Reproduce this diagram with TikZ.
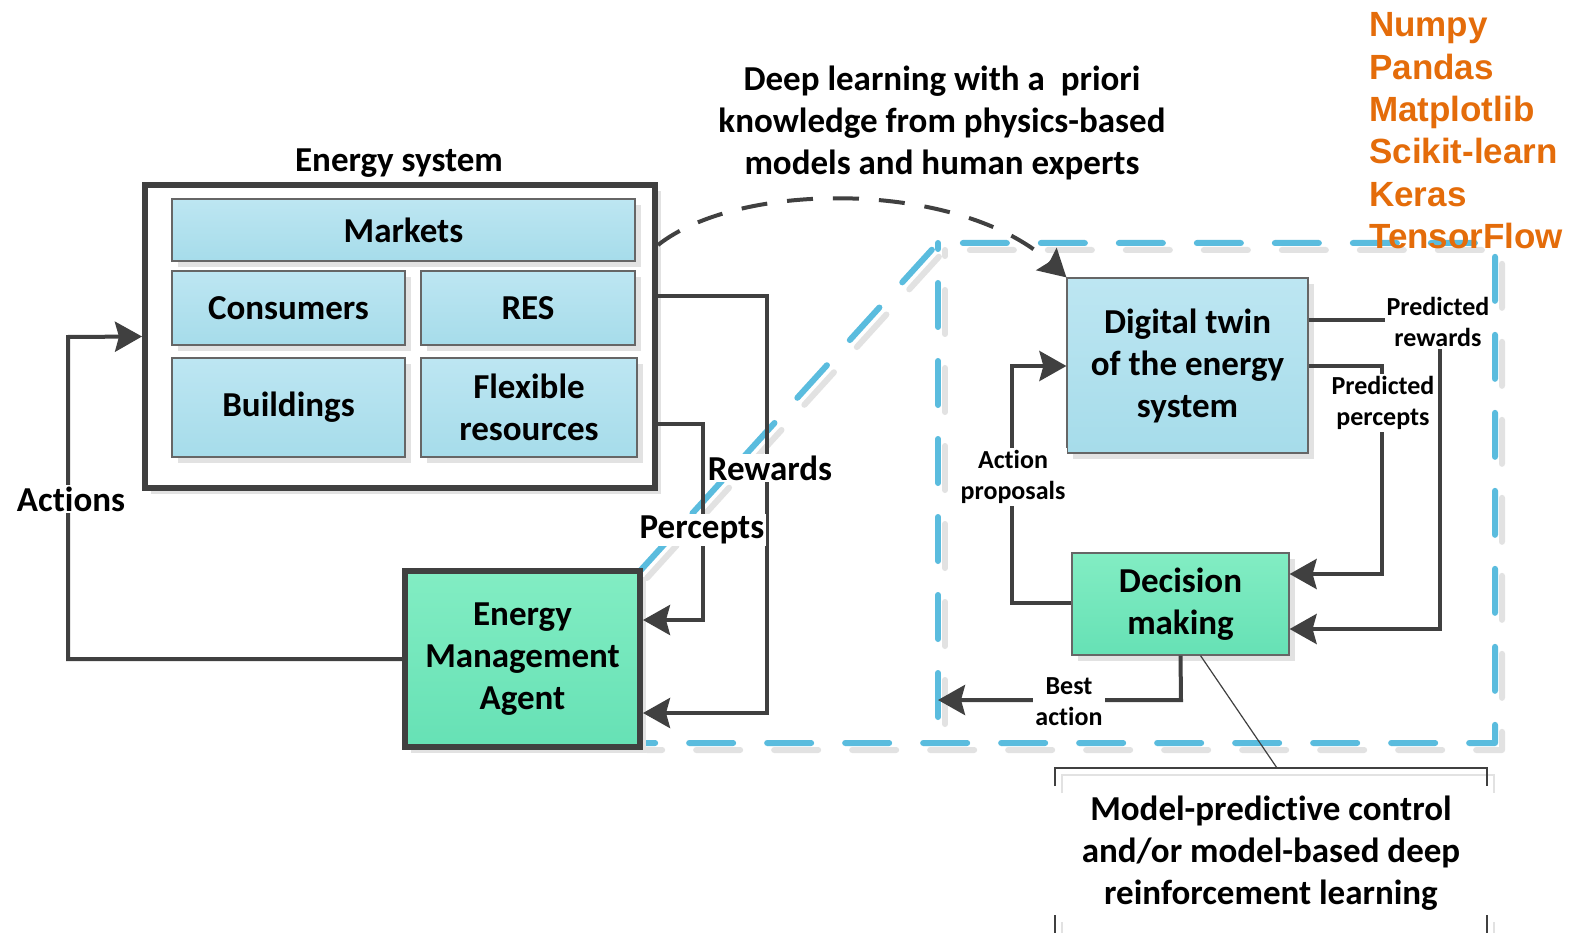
\documentclass[tikz,border=0pt]{standalone}
\usepackage{fontspec}
\setmainfont{Carlito}[Ligatures=NoCommon]
\newfontfamily\orangefont{Liberation Sans}
\usetikzlibrary{arrows.meta,shadows,calc}
\definecolor{dk}{HTML}{404040}
\definecolor{shg}{HTML}{E2E2E2}
\definecolor{bltop}{HTML}{BDE6F2}
\definecolor{blbot}{HTML}{A6DCEA}
\definecolor{grtop}{HTML}{82EDC3}
\definecolor{grbot}{HTML}{66E1B5}
\definecolor{bd}{HTML}{5ABCDE}
\definecolor{org}{HTML}{E46C0A}
\tikzset{
  big/.style={font=\bfseries\fontsize{35}{42}\selectfont},
  small/.style={font=\bfseries\fontsize{26}{31}\selectfont},
  shad/.style={drop shadow={shadow xshift=6pt,shadow yshift=-6pt,fill=shg,opacity=1}},
  bluebox/.style={draw=dk!80,line width=1.2pt,top color=bltop,bottom color=blbot,shad,big,align=center,inner sep=0pt},
  greenbox/.style={draw=dk!80,line width=1.2pt,top color=grtop,bottom color=grbot,shad,big,align=center,inner sep=0pt},
  conn/.style={draw=dk,line width=4pt},
  arr/.style={conn,-{Stealth[length=27pt,width=30pt,inset=4pt]}},
  lbl/.style={fill=white,inner sep=2pt,align=center},
  bluedash/.style={draw=bd,line width=6pt,line cap=round,line join=round,dash pattern=on 44pt off 34pt},
  shdash/.style={draw=shg,line width=6pt,line cap=round,line join=round,dash pattern=on 44pt off 34pt},
}
\begin{document}
\begin{tikzpicture}[x=1pt,y=-1pt]
\useasboundingbox (0,0) rectangle (1572,933);
\fill[white] (0,0) rectangle (1572,933);

% blue dashed region (shadow first)
\begin{scope}[shift={(7,7)}]
\draw[shdash] (640,571) -- (938,243) -- (1495,243) -- (1495,743) -- (640,743);
\draw[shdash,dash phase=-40pt] (938,243) -- (938,743);
\end{scope}
\draw[bluedash] (640,571) -- (938,243) -- (1495,243) -- (1495,743) -- (640,743);
\draw[bluedash,dash phase=-40pt] (938,243) -- (938,743);

% energy system
\node[big] (estitle) at (399,163) {Energy system};
\node[draw=dk,line width=6pt,fill=white,shad,minimum width=510pt,minimum height=303pt,inner sep=0pt] (es) at (400,336.5) {};
\node[bluebox,minimum width=463pt,minimum height=62pt] (mk) at (403.5,230) {Markets};
\node[bluebox,minimum width=233pt,minimum height=74pt] (cons) at (288.5,308) {Consumers};
\node[bluebox,minimum width=214pt,minimum height=74pt] (res) at (528,308) {RES};
\node[bluebox,minimum width=233pt,minimum height=99pt] (bld) at (288.5,407.5) {Buildings};
\node[bluebox,minimum width=216pt,minimum height=99pt] (flex) at (529,407.5) {Flexible\\resources};

% agent
\node[greenbox,draw=dk,line width=6pt,minimum width=235pt,minimum height=176pt] (ema) at (522.5,659) {Energy\\Management\\Agent};

% digital twin and decision
\node[bluebox,minimum width=241pt,minimum height=175pt] (dt) at (1187.5,365.5) {Digital twin\\of the energy\\system};
\node[greenbox,minimum width=217pt,minimum height=102pt] (dm) at (1180.5,604) {Decision\\making};

% dashed curve
\draw[draw=dk,line width=4pt,dash pattern=on 26pt off 20pt,-{Stealth[length=27pt,width=30pt,inset=4pt]}]
  ($(es.east)+(0,-91.5)$) .. controls (740,180) and (960,180) .. (dt.north west);

% connectors
\draw[arr] ($(es.east)+(0,-40.5)$) -- (767,296) -- (767,713) -- ($(ema.east)+(0,54)$);
\draw[arr] ($(es.east)+(0,87.5)$) -- (703,424) -- (703,620) -- ($(ema.east)+(0,-39)$);
\draw[arr] (ema.west) -- (68,659) -- (68,337) -- (es.west);
\draw[arr] ($(dt.east)+(0,-45.5)$) -- (1440,320) -- (1440,629) -- ($(dm.east)+(0,25)$);
\draw[arr] ($(dt.east)+(0,0.5)$) -- (1382,366) -- (1382,574) -- ($(dm.east)+(0,-30)$);
\draw[arr] ($(dm.west)+(0,-1)$) -- (1012,603) -- (1012,366) -- ($(dt.west)+(0,0.5)$);
\coordinate (baend) at (938,700);
\draw[arr] (dm.south) -- (1181,700) -- (baend);

% labels
\node[lbl,big] (lrew) at (770,468) {Rewards};
\node[lbl,big] (lper) at (702,530) {Percepts};
\node[lbl,big] (lact) at (71,499) {Actions};
\node[lbl,small] (lpr) at (1438,322) {Predicted\\rewards};
\node[lbl,small] (lpp) at (1383,403) {Predicted\\percepts};
\node[lbl,small] (lap) at (1013,477) {Action\\proposals};
\node[lbl,small] (lba) at (1069,702) {Best\\action};

% top text
\node[big,align=center] (deep) at (942,123) {Deep learning with a~ priori\\knowledge from physics-based\\models and human experts};

% callout
\coordinate (cotop) at (1277,768);
\draw[dk,line width=1.2pt] ($(dm.south)+(20,0)$) -- (cotop);
\begin{scope}[shift={(7,7)}]
\draw[shg,line width=1.5pt] (1055,786) -- (1055,768) -- (1487,768) -- (1487,786);
\draw[shg,line width=1.5pt] (1055,915) -- (1055,926);
\draw[shg,line width=1.5pt] (1487,915) -- (1487,926);
\end{scope}
\draw[dk,line width=1.5pt] (1055,786) -- (1055,768) -- (cotop) -- (1487,768) -- (1487,786);
\draw[dk,line width=1.5pt] (1055,915) -- (1055,933);
\draw[dk,line width=1.5pt] (1487,915) -- (1487,933);
\node[big,align=center] (mpc) at (1271,853) {Model-predictive control\\and/or model-based deep\\reinforcement learning};

% orange list
\foreach \t [count=\i from 0] in {Numpy,Pandas,Matplotlib,Scikit-learn,Keras,TensorFlow}{
  \node[anchor=base west,inner sep=0pt,text=org,font=\orangefont\bfseries\fontsize{35}{42}\selectfont] (lib\i) at (1369,{37+42.3*\i}) {\t};
}
\end{tikzpicture}
\end{document}
